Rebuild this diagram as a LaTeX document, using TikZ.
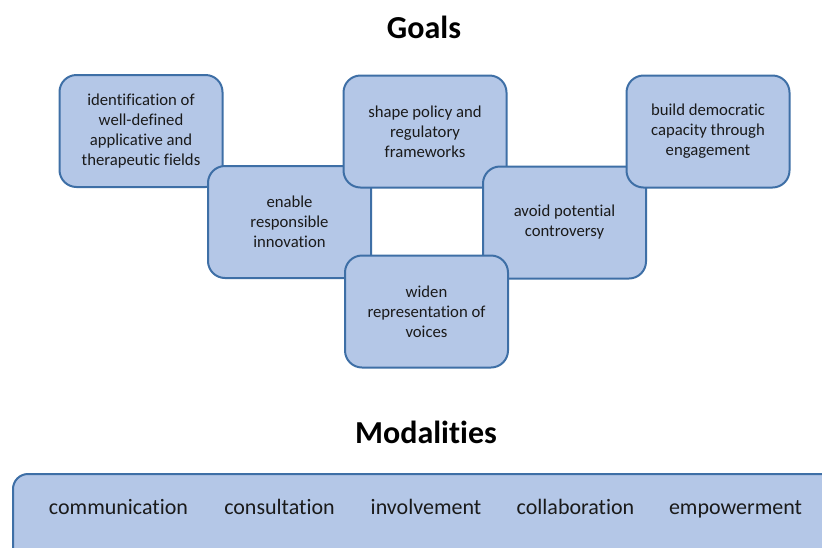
\documentclass[tikz,border=0pt]{standalone}
\usepackage{fontspec}
\setmainfont{Carlito}[Ligatures=NoCommon]
\definecolor{boxfill}{HTML}{B4C7E7}
\definecolor{boxline}{HTML}{3E6FA6}
\definecolor{ink}{HTML}{1A1A1A}
\begin{document}
\begin{tikzpicture}[x=1pt,y=-1pt,
  goal/.style={draw=boxline, fill=boxfill, line width=2pt, rounded corners=17pt,
    minimum width=163pt, minimum height=112pt, inner sep=0pt, text=ink,
    align=center, font=\fontsize{16.7}{20}\selectfont},
  heading/.style={font=\fontsize{32}{36}\selectfont\bfseries, text=black, inner sep=0pt},
  modbar/.style={draw=boxline, fill=boxfill, line width=2pt, rounded corners=15pt,
    minimum width=840pt, minimum height=110pt, inner sep=0pt, anchor=north west},
  mode/.style={font=\fontsize{22}{26}\selectfont, text=ink, inner sep=0pt, anchor=base}]
  \useasboundingbox (0,0) rectangle (822,547);
  \clip (0,0) rectangle (822,547);
  \fill[white] (0,0) rectangle (822,547);

  % headings
  \node[heading, anchor=base] (goals) at (424,38) {Goals};
  \node[heading, anchor=base] (modalities) at (426,443) {Modalities};

  % goal boxes, drawn back to front so the overlaps stack correctly
  \node[goal] (ident) at (141,131) {identification of\\well-defined\\applicative and\\therapeutic fields};
  \node[goal] (enable) at (289.5,222) {enable\\responsible\\innovation};
  \node[goal] (shape) at (425,131.5) {shape policy and\\regulatory\\frameworks};
  \node[goal] (avoid) at (564.5,222.5) {avoid potential\\controversy};
  \node[goal] (widen) at (426.5,311.5) {widen\\representation of\\voices};
  \node[goal] (build) at (708,131.5) {build democratic\\capacity through\\engagement};

  % modalities bar
  \node[modbar] (bar) at (12,473) {};
  \node[mode] (comm) at (118.5,514) {communication};
  \node[mode] (cons) at (279.5,514) {consultation};
  \node[mode] (invo) at (426,514) {involvement};
  \node[mode] (coll) at (575.5,514) {collaboration};
  \node[mode] (empo) at (735.5,514) {empowerment};
\end{tikzpicture}
\end{document}
